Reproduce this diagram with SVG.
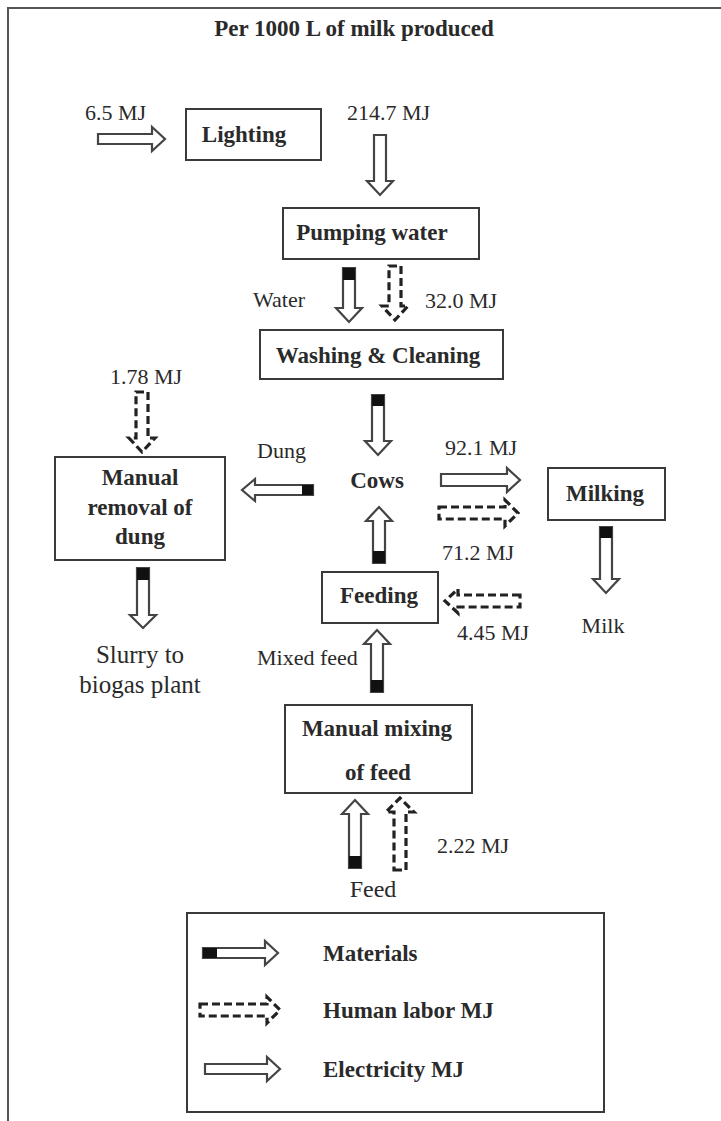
<svg xmlns="http://www.w3.org/2000/svg" width="721" height="1121" viewBox="0 0 721 1121" font-family="'Liberation Serif', 'DejaVu Serif', serif">
<style>
text{fill:#2a2a2a}
.b{font-weight:bold;font-size:23px}
.l{font-size:22px}
.c{text-anchor:middle}
.box{fill:#fff;stroke:#3a3a3a;stroke-width:2}
.elec{fill:#fff;stroke:#444;stroke-width:2.2;stroke-linejoin:miter}
.lab{fill:none;stroke:#222;stroke-width:3.2;stroke-dasharray:8 4}
.tip{fill:#111}
</style>
<rect x="0" y="0" width="721" height="1121" fill="#fff"/>
<rect x="8" y="8" width="740" height="1140" fill="none" stroke="#555" stroke-width="2"/>
<text id="title" class="b c" x="354" y="36" font-size="25.5">Per 1000 L of milk produced</text>

<g id="lighting"><rect class="box" x="186" y="109" width="135" height="51"/><text class="b c" x="244" y="142">Lighting</text></g>
<g id="pumping-water"><rect class="box" x="283" y="208" width="196" height="51"/><text class="b c" x="372" y="240">Pumping water</text></g>
<g id="washing"><rect class="box" x="260" y="330" width="243" height="49"/><text class="b c" x="378" y="363">Washing &amp; Cleaning</text></g>
<g id="manual-removal"><rect class="box" x="55" y="457" width="170" height="103"/><text class="b c" x="140" y="485">Manual</text><text class="b c" x="140" y="515">removal of</text><text class="b c" x="140" y="544">dung</text></g>
<g id="cows"><text class="b c" x="377" y="488">Cows</text></g>
<g id="milking"><rect class="box" x="548" y="468" width="117" height="52"/><text class="b c" x="605" y="501">Milking</text></g>
<g id="milk"><text class="l c" x="603" y="633">Milk</text></g>
<g id="feeding"><rect class="box" x="322" y="572" width="116" height="51"/><text class="b c" x="379" y="603">Feeding</text></g>
<g id="slurry"><text class="c" x="140" y="663" font-size="25">Slurry to</text><text class="c" x="140" y="693" font-size="25">biogas plant</text></g>
<g id="manual-mixing"><rect class="box" x="285" y="705" width="187" height="88"/><text class="b c" x="377" y="736">Manual mixing</text><text class="b c" x="378" y="780">of feed</text></g>
<g id="feed"><text class="c" x="373" y="897" font-size="24">Feed</text></g>

<g id="connectors">
<path class="elec" d="M98,134 L152,134 L152,127 L165,139 L152,151 L152,144 L98,144 Z"/>
<text class="l" x="85" y="120">6.5 MJ</text>
<path class="elec" d="M374,135 L386,135 L386,181 L393,181 L380,195 L367,181 L374,181 Z"/>
<text class="l" x="347" y="120">214.7 MJ</text>
<path class="elec" d="M343,268 L355,268 L355,308 L362,308 L349,322 L336,308 L343,308 Z"/>
<rect class="tip" x="343" y="268" width="12" height="12"/>
<text class="l" x="253" y="307">Water</text>
<path class="lab" d="M389,266 L401,266 L401,306 L408,306 L395,320 L382,306 L389,306 Z"/>
<text class="l" x="425" y="308">32.0 MJ</text>
<path class="lab" d="M136,392 L148,392 L148,438 L155,438 L142,452 L129,438 L136,438 Z"/>
<text class="l c" x="146" y="384">1.78 MJ</text>
<path class="elec" d="M313,485 L255,485 L255,479 L242,490 L255,501 L255,495 L313,495 Z"/>
<rect class="tip" x="302" y="485" width="11" height="10"/>
<text class="l" x="257" y="458">Dung</text>
<path class="elec" d="M372,395 L384,395 L384,441 L391,441 L378,455 L365,441 L372,441 Z"/>
<rect class="tip" x="372" y="395" width="12" height="11"/>
<path class="elec" d="M441,474 L507,474 L507,468 L520,480 L507,492 L507,486 L441,486 Z"/>
<text class="l" x="445" y="455">92.1 MJ</text>
<path class="lab" d="M439,507 L505,507 L505,500 L518,513 L505,526 L505,519 L439,519 Z"/>
<text class="l" x="442" y="560">71.2 MJ</text>
<path class="elec" d="M600,527 L612,527 L612,579 L619,579 L606,593 L593,579 L600,579 Z"/>
<rect class="tip" x="600" y="527" width="12" height="11"/>
<path class="elec" d="M373,563 L385,563 L385,521 L392,521 L379,507 L366,521 L373,521 Z"/>
<rect class="tip" x="373" y="551" width="12" height="12"/>
<path class="lab" d="M520,595 L458,595 L458,589 L445,601 L458,613 L458,607 L520,607 Z"/>
<text class="l" x="457" y="640">4.45 MJ</text>
<path class="elec" d="M137,568 L149,568 L149,615 L156,615 L143,628 L130,615 L137,615 Z"/>
<rect class="tip" x="137" y="568" width="12" height="12"/>
<path class="elec" d="M371,692 L383,692 L383,644 L390,644 L377,630 L364,644 L371,644 Z"/>
<rect class="tip" x="371" y="680" width="12" height="12"/>
<text class="l" x="257" y="665">Mixed feed</text>
<path class="elec" d="M349,868 L361,868 L361,814 L368,814 L355,800 L342,814 L349,814 Z"/>
<rect class="tip" x="349" y="856" width="12" height="12"/>
<path class="lab" d="M394,870 L406,870 L406,812 L414,812 L400,798 L386,812 L394,812 Z"/>
<text class="l" x="437" y="853">2.22 MJ</text>
</g>

<g id="legend">
<rect class="box" x="187" y="913" width="417" height="199"/>
<path class="elec" d="M203,948 L265,948 L265,941 L278,953 L265,965 L265,958 L203,958 Z"/>
<rect class="tip" x="203" y="948" width="14" height="10"/>
<text class="b" x="323" y="961">Materials</text>
<path class="lab" d="M200,1004 L267,1004 L267,997 L280,1010 L267,1023 L267,1016 L200,1016 Z"/>
<text class="b" x="323" y="1018">Human labor MJ</text>
<path class="elec" d="M205,1064 L267,1064 L267,1057 L280,1069 L267,1081 L267,1074 L205,1074 Z"/>
<text class="b" x="323" y="1077">Electricity MJ</text>
</g>
</svg>
